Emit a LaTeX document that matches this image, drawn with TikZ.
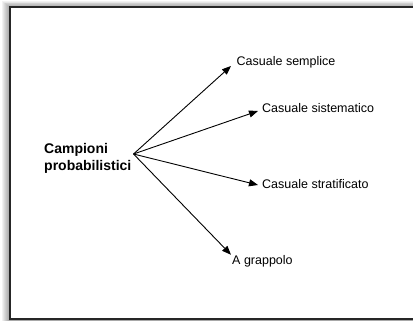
\documentclass[tikz,border=0pt]{standalone}
\usepackage{fontspec}
\setmainfont{Liberation Sans}
\usetikzlibrary{arrows.meta,calc}
\tikzset{
    lbl/.style={anchor=base west, inner sep=0pt, font=\fontsize{12.5}{15}\selectfont},
    pfeil/.style={-{Triangle[length=9pt,width=7pt]}, line width=0.9pt},
}
\begin{document}
\begin{tikzpicture}[x=1pt,y=-1pt]
        \useasboundingbox (0,0) rectangle (413,321);
        \foreach \i in {1,...,8}
            \fill[black, opacity=0.05] (10-\i,7-0.7*\i) rectangle (413,321);
        \draw[line width=1.2pt, black!85, fill=white] (10,7) rectangle (420,319);

        \node[anchor=west, inner sep=0pt, align=left, font=\fontsize{14}{17}\selectfont\bfseries] (cp) at (44,158) {Campioni\\probabilistici};

        \node[lbl] (sem) at (236.5,66) {Casuale semplice};
        \node[lbl] (sis) at (262,113) {Casuale sistematico};
        \node[lbl] (str) at (262,188) {Casuale stratificato};
        \node[lbl] (grap) at (232,264) {A grappolo};

        \coordinate (hub) at ([shift={(2pt,4pt)}]cp.east);
        \draw[pfeil] (hub) -- ([xshift=-5.5pt]sem.base west);
        \draw[pfeil] (hub) -- ([shift={(-4pt,2pt)}]sis.base west);
        \draw[pfeil] (hub) -- ([shift={(-4pt,3pt)}]str.base west);
        \draw[pfeil] (hub) -- ([xshift=-1pt]grap.north west);
    \end{tikzpicture}
\end{document}
